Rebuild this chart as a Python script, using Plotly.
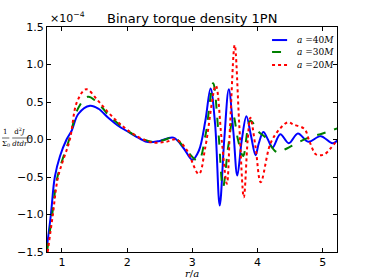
import plotly.graph_objects as go

# values in units of 1e-4
r_40 = [0.77, 0.83, 0.89, 0.97, 1.07, 1.15, 1.25, 1.43, 1.56, 1.71, 1.85, 2.02, 2.2, 2.32, 2.5, 2.71, 2.87, 3.0, 3.1, 3.2, 3.28, 3.35, 3.42, 3.49, 3.56, 3.63, 3.69, 3.76, 3.83, 3.9, 3.97, 4.02, 4.09, 4.16, 4.23, 4.35, 4.48, 4.62, 4.78, 4.97, 5.15, 5.23]
v_40 = [-1.42, -1.0, -0.5, -0.22, 0.0, 0.12, 0.34, 0.45, 0.41, 0.29, 0.19, 0.10, 0.01, -0.035, -0.02, 0.025, -0.12, -0.27, -0.15, 0.25, 0.68, 0.2, -0.88, 0.0, 0.67, 0.1, -0.48, 0.0, 0.31, 0.05, -0.21, -0.05, 0.10, 0.0, -0.11, 0.07, -0.05, 0.08, -0.03, 0.045, -0.05, -0.01]

r_30 = [0.77, 0.85, 0.93, 1.11, 1.25, 1.40, 1.6, 1.71, 1.85, 2.0, 2.2, 2.38, 2.55, 2.72, 2.85, 3.09, 3.2, 3.32, 3.40, 3.47, 3.55, 3.63, 3.70, 3.78, 3.89, 4.02, 4.12, 4.30, 4.45, 4.6, 4.8, 5.0, 5.23]
v_30 = [-1.5, -1.0, -0.5, 0.0, 0.42, 0.57, 0.44, 0.33, 0.22, 0.12, 0.02, -0.03, -0.01, 0.03, -0.08, -0.28, 0.05, 0.75, 0.1, -0.64, -0.1, 0.31, 0.0, -0.22, 0.25, 0.1, 0.03, -0.17, -0.12, -0.05, 0.03, 0.08, 0.15]

r_20 = [0.78, 0.86, 0.94, 1.12, 1.23, 1.37, 1.55, 1.71, 1.85, 2.0, 2.2, 2.4, 2.6, 2.75, 2.9, 3.10, 3.2, 3.36, 3.45, 3.53, 3.58, 3.65, 3.72, 3.79, 3.85, 3.89, 3.97, 4.05, 4.2, 4.35, 4.47, 4.55, 4.72, 4.8, 4.9, 5.02, 5.12, 5.23]
v_20 = [-1.5, -1.0, -0.5, 0.0, 0.5, 0.67, 0.52, 0.36, 0.24, 0.13, 0.02, -0.04, -0.03, 0.0, -0.12, -0.46, -0.1, 0.72, 0.0, -0.59, 0.2, 1.26, 0.2, -0.77, 0.0, 0.29, -0.1, -0.57, -0.05, 0.15, 0.23, 0.2, 0.14, -0.03, -0.2, -0.2, -0.12, 0.0]

series_names = ["<i>a</i> =40<i>M</i>", "<i>a</i> =30<i>M</i>", "<i>a</i> =20<i>M</i>"]
series_colors = ["#0000ff", "#008000", "#ff0000"]
series_dashes = ["solid", "dash", "dot"]

x_ticks = [1, 2, 3, 4, 5]
y_ticks = [-1.5, -1.0, -0.5, 0.0, 0.5, 1.0, 1.5]

fig = go.Figure()
for r, v, nm, c, d in zip([r_40, r_30, r_20], [v_40, v_30, v_20], series_names, series_colors, series_dashes):
    fig.add_trace(go.Scatter(x=r, y=v, mode="lines", name=nm, showlegend=False,
                             line=dict(color=c, width=2, dash=d, shape="spline", smoothing=1.0)))

axis_common = dict(showgrid=False, zeroline=False, showline=True, linecolor="black", linewidth=1,
                   mirror="allticks", ticks="inside", ticklen=4, tickcolor="black",
                   tickfont=dict(family="DejaVu Sans", size=11, color="black"))

fig.update_xaxes(range=[0.77, 5.22], tickvals=x_ticks, ticktext=[str(t) for t in x_ticks], automargin=False, **axis_common)
fig.update_yaxes(range=[-1.5, 1.5], tickvals=y_ticks, tickformat=".1f", automargin=False, **axis_common)

# manual legend (matplotlib style, no frame)
shapes = []
annotations = []
leg_y = [0.942, 0.889, 0.831]
for i in range(3):
    shapes.append(dict(type="line", xref="paper", yref="paper", x0=0.776, x1=0.828, y0=leg_y[i], y1=leg_y[i],
                       line=dict(color=series_colors[i], width=2, dash=series_dashes[i])))
    annotations.append(dict(text=series_names[i], x=0.855, y=leg_y[i], xref="paper", yref="paper",
                            xanchor="left", yanchor="middle", showarrow=False,
                            font=dict(family="DejaVu Serif", size=9, color="black")))

# y-label fraction bars
shapes.append(dict(type="line", xref="paper", yref="y", x0=-0.155, x1=-0.13, y0=0.02, y1=0.02,
                   line=dict(color="black", width=0.6)))
shapes.append(dict(type="line", xref="paper", yref="y", x0=-0.12, x1=-0.055, y0=0.02, y1=0.02,
                   line=dict(color="black", width=0.6)))

annotations += [
    dict(text="×10<sup>−4</sup>", x=0, y=1, xref="paper", yref="paper", xanchor="left", yanchor="bottom",
         xshift=1, showarrow=False, font=dict(family="DejaVu Sans", size=11, color="black")),
    dict(text="<i>r</i>/<i>a</i>", x=0.5, y=0, xref="paper", yref="paper", xanchor="center", yanchor="top",
         yshift=-15, showarrow=False, borderpad=0, font=dict(family="DejaVu Serif", size=10, color="black")),
    dict(text="1&nbsp;&nbsp;&nbsp;d<sup>2</sup><i>J</i>", x=-0.155, y=0.02, xref="paper", yref="y", xanchor="left", yanchor="bottom",
         yshift=1, showarrow=False, borderpad=0, font=dict(family="DejaVu Serif", size=7, color="black")),
    dict(text="Σ<sub>0</sub> <i>dtdr</i>", x=-0.158, y=0.02, xref="paper", yref="y", xanchor="left", yanchor="top",
         yshift=-1, showarrow=False, borderpad=0, font=dict(family="DejaVu Serif", size=7, color="black")),
]

fig.update_layout(
    width=374, height=280,
    margin=dict(l=47, r=37, t=27, b=28, autoexpand=False),
    paper_bgcolor="white", plot_bgcolor="white",
    showlegend=False,
    title=dict(text="Binary torque density 1PN", x=0.514, xanchor="center", xref="container",
               y=1 - 18 / 280, yref="container", yanchor="middle",
               font=dict(family="DejaVu Sans", size=13, color="black")),
    shapes=shapes,
    annotations=annotations,
)

fig.write_html("out.html", config={"displayModeBar": False},
               post_script="document.body.style.margin='0px';document.body.style.overflow='hidden';")
